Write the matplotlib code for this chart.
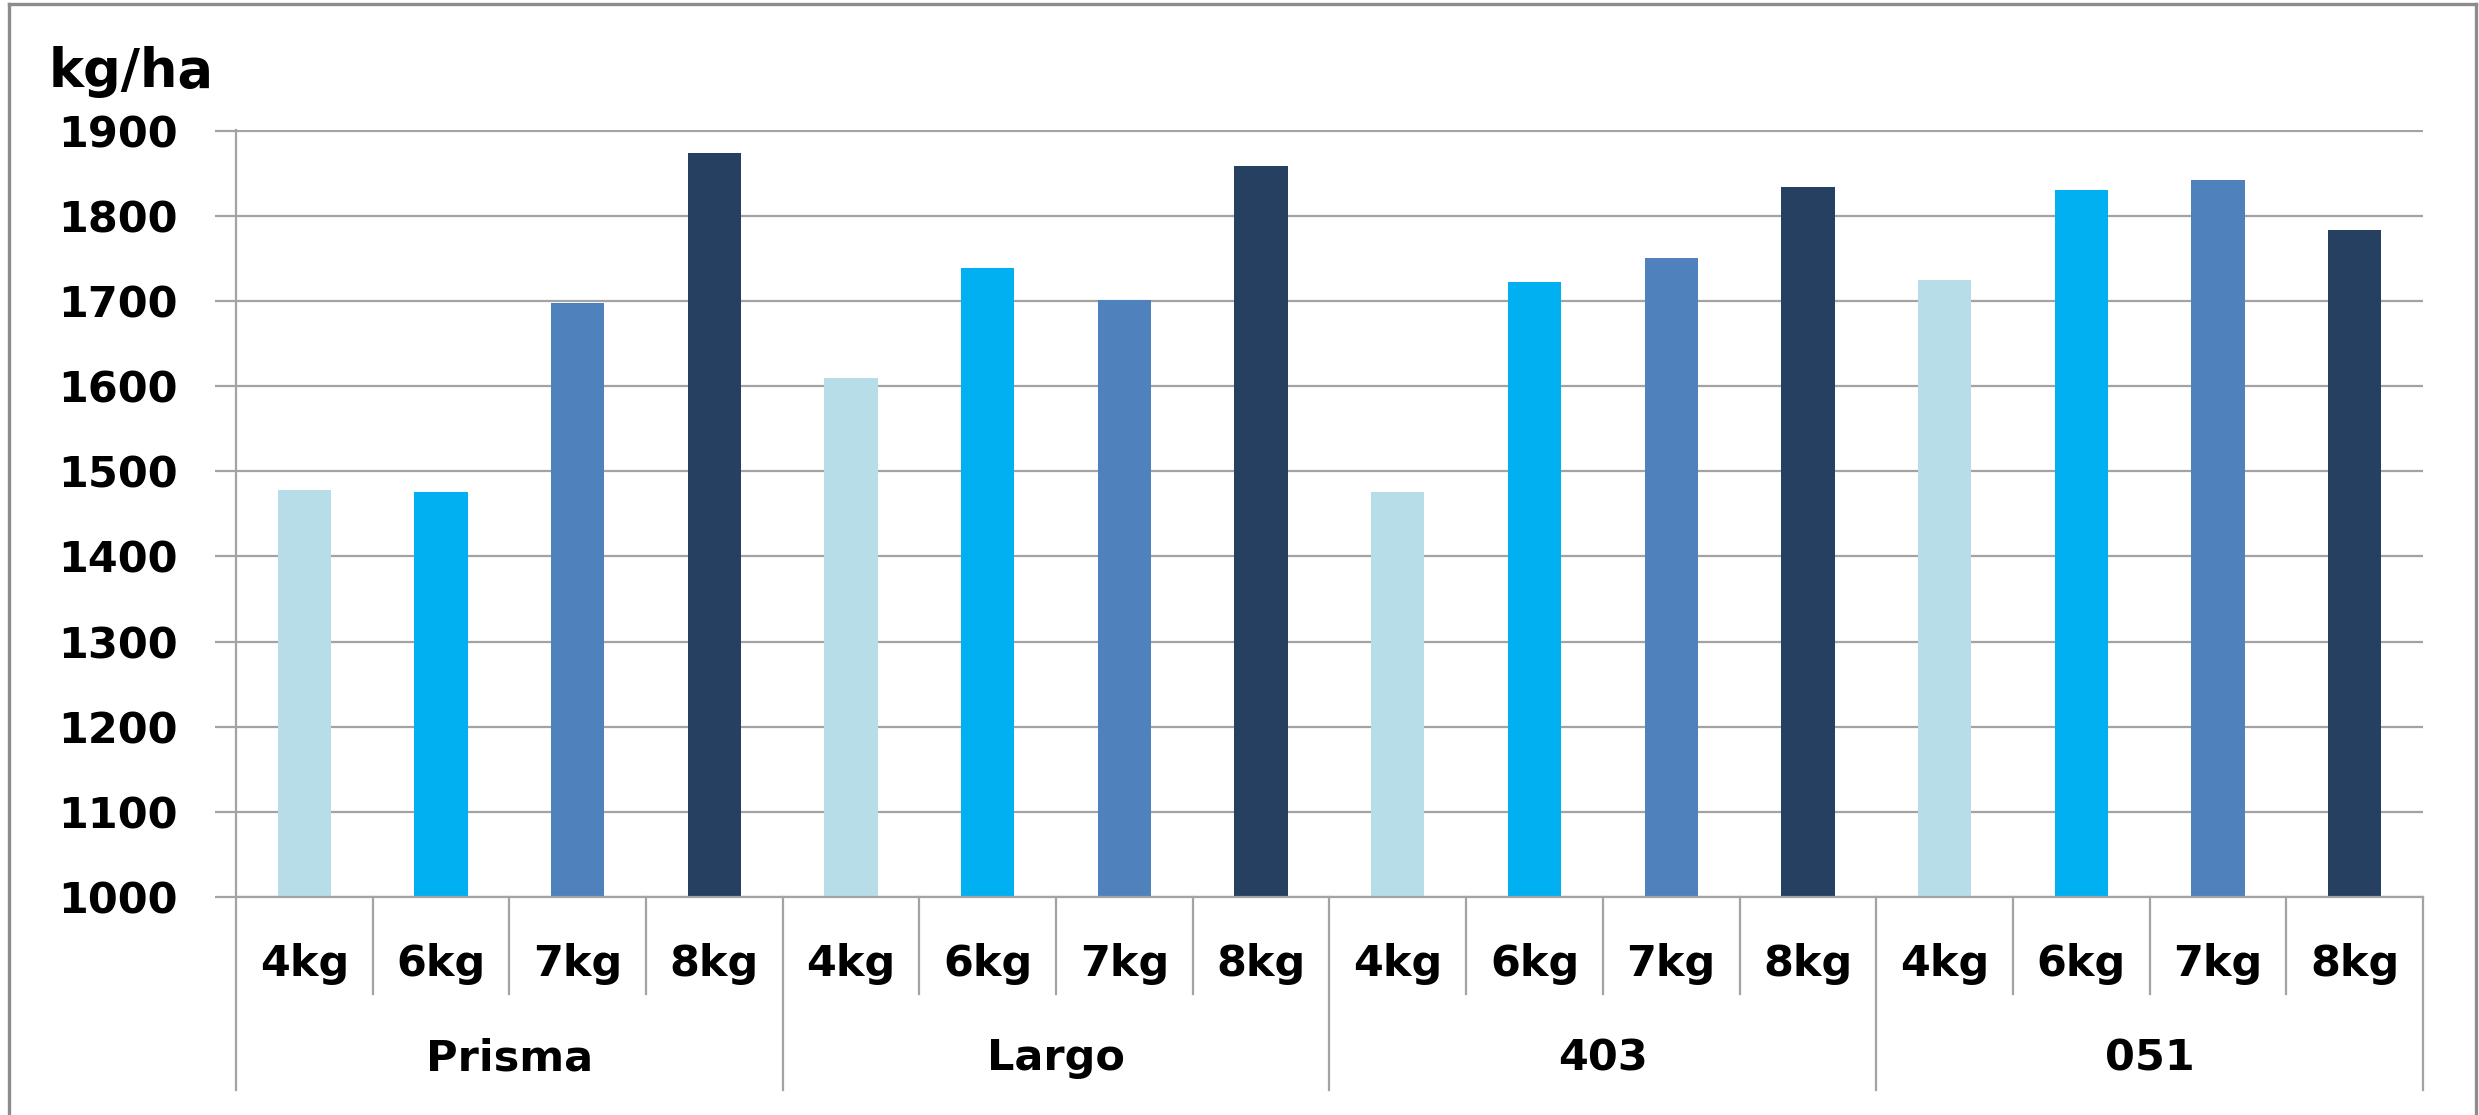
import matplotlib.pyplot as plt
from matplotlib.lines import Line2D
import matplotlib.transforms as mtransforms

# data (kg/ha)
varieties = ['Prisma', 'Largo', '403', '051']
rates = ['4kg', '6kg', '7kg', '8kg']
prisma = [1478, 1476, 1698, 1874]
largo = [1609, 1738, 1701, 1858]
v403 = [1476, 1722, 1750, 1834]
v051 = [1724, 1830, 1842, 1783]
yticks = [1000, 1100, 1200, 1300, 1400, 1500, 1600, 1700, 1800, 1900]

colors = ['#B7DEE8', '#00B0F0', '#4F81BD', '#254061']
gray = '#a3a3a3'

plt.rcParams['font.family'] = 'DejaVu Sans'
plt.rcParams['font.weight'] = 'bold'

fig = plt.figure(figsize=(24.79, 11.15), dpi=100)
ax = fig.add_axes([0.0952, 0.1955, 0.8822, 0.6879])

values = [prisma, largo, v403, v051]
for g, vals in enumerate(values):
    for i, v in enumerate(vals):
        ax.bar(g * 4 + i, v, width=0.39, color=colors[i], zorder=2)

n = len(varieties) * len(rates)
ax.set_xlim(-0.5, n - 0.5)
ax.set_ylim(1000, 1900.6)
ax.set_yticks(yticks)
ax.set_yticklabels([str(t) for t in yticks], fontsize=31, fontweight='bold')
ax.set_xticks([])
ax.yaxis.grid(True, color=gray, linewidth=1.6)
ax.set_axisbelow(True)
ax.tick_params(axis='y', length=15, width=1.6, color=gray, pad=27)

for side in ['top', 'right']:
    ax.spines[side].set_visible(False)
for side in ['left', 'bottom']:
    ax.spines[side].set_color(gray)
    ax.spines[side].set_linewidth(1.6)

# two-level category axis
trans = mtransforms.blended_transform_factory(ax.transData, ax.transAxes)
for k in range(n + 1):
    xb = k - 0.5
    low = -0.2516 if k % 4 == 0 else -0.1265
    ax.add_line(Line2D([xb, xb], [0, low], transform=trans, color=gray,
                       linewidth=1.6, clip_on=False))
for g, name in enumerate(varieties):
    for i, r in enumerate(rates):
        ax.text(g * 4 + i, -0.087, r, transform=trans, ha='center', va='center',
                fontsize=31, fontweight='bold')
    ax.text(g * 4 + 1.5, -0.21, name, transform=trans, ha='center', va='center',
            fontsize=31, fontweight='bold')

fig.text(0.0198, 0.935, 'kg/ha', fontsize=38, fontweight='bold', ha='left', va='center')

# outer chart frame (bottom edge is off the picture)
fc = '#8c8c8c'
fig.add_artist(Line2D([0.0036, 0.0036], [-0.1, 0.9964], transform=fig.transFigure, color=fc, lw=2.4))
fig.add_artist(Line2D([0.0036, 0.9986], [0.9964, 0.9964], transform=fig.transFigure, color=fc, lw=2.4))
fig.add_artist(Line2D([0.9986, 0.9986], [-0.1, 0.9964], transform=fig.transFigure, color=fc, lw=2.4))

fig.savefig('out.png', dpi=100)
